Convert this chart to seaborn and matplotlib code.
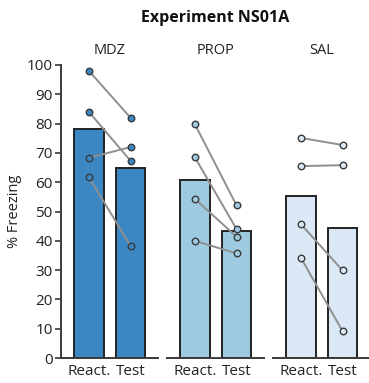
import numpy as np
import pandas as pd
import matplotlib
matplotlib.use("Agg")
import matplotlib.pyplot as plt
import seaborn as sns

sns.set_style("white")
plt.rcParams["font.family"] = ["Open Sans", "DejaVu Sans"]

# Groups and phases
groups = ["MDZ", "PROP", "SAL"]
phases = ["React.", "Test"]

# Individual subject freezing (%) per group: reactivation and test
mdz_react = [98.0, 84.0, 68.3, 61.7]
mdz_test = [82.0, 67.3, 72.0, 38.3]
prop_react = [79.8, 68.5, 54.3, 40.0]
prop_test = [52.1, 44.0, 41.4, 35.7]
sal_react = [75.1, 65.5, 45.7, 34.2]
sal_test = [72.7, 65.8, 29.9, 9.2]

group_colors = ["#3b87c4", "#9ecae1", "#dbe9f6"]

yticks = [0, 10, 20, 30, 40, 50, 60, 70, 80, 90, 100]

react = {"MDZ": mdz_react, "PROP": prop_react, "SAL": sal_react}
test = {"MDZ": mdz_test, "PROP": prop_test, "SAL": sal_test}

rows = []
for g in groups:
    for i, (r, t) in enumerate(zip(react[g], test[g])):
        rows.append({"group": g, "subject": i, "phase": phases[0], "freezing": r})
        rows.append({"group": g, "subject": i, "phase": phases[1], "freezing": t})
df = pd.DataFrame(rows)

W, H = 369, 383
fig = plt.figure(figsize=(W / 100, H / 100), dpi=100)

ax_w = 97 / W
ax_h = 293 / H
bottom = (H - 358) / H
lefts = [61 / W, 167 / W, 273 / W]

edge = "#222222"
axes = []
for k, g in enumerate(groups):
    ax = fig.add_axes([lefts[k], bottom, ax_w, ax_h])
    axes.append(ax)
    sub = df[df["group"] == g]
    sns.barplot(data=sub, x="phase", y="freezing", order=phases,
                estimator="mean", errorbar=None, color=group_colors[k],
                saturation=1, width=0.71, edgecolor=edge, linewidth=1.4,
                ax=ax)
    # Paired subject lines
    for s, d in sub.groupby("subject"):
        d = d.set_index("phase").loc[phases]
        ax.plot([0, 1], d["freezing"].values, color="#8f8f8f", lw=1.4,
                zorder=3)
    sns.scatterplot(data=sub, x="phase", y="freezing", color=group_colors[k],
                    edgecolor="#3a3a3a", linewidth=1.0, s=22, zorder=4,
                    legend=False, ax=ax)
    ax.set_xlim(-0.67, 1.66)
    ax.set_ylim(0, 100)
    ax.set_xlabel("")
    ax.set_ylabel("")
    ax.set_title(g, fontsize=10.5, color="#222222", pad=8)
    ax.tick_params(axis="x", length=0, labelsize=11, pad=4,
                   labelcolor="#222222")
    for side in ["top", "right"]:
        ax.spines[side].set_visible(False)
    ax.spines["bottom"].set_color("#3a3a3a")
    ax.spines["bottom"].set_linewidth(1.4)
    if k == 0:
        ax.set_yticks(yticks)
        ax.spines["left"].set_color("#3a3a3a")
        ax.spines["left"].set_linewidth(1.4)
        ax.tick_params(axis="y", length=4, width=1.2, color="#3a3a3a",
                       labelsize=11, pad=2, labelcolor="#222222", left=True)
        ax.set_ylabel("% Freezing", fontsize=10.5, color="#222222", labelpad=3)
    else:
        ax.spines["left"].set_visible(False)
        ax.set_yticks([])

fig.text(0.583, 0.952, "Experiment NS01A", ha="center", va="center",
         fontsize=11.5, fontweight="bold", color="#111111")

fig.savefig("out.png", dpi=100)
